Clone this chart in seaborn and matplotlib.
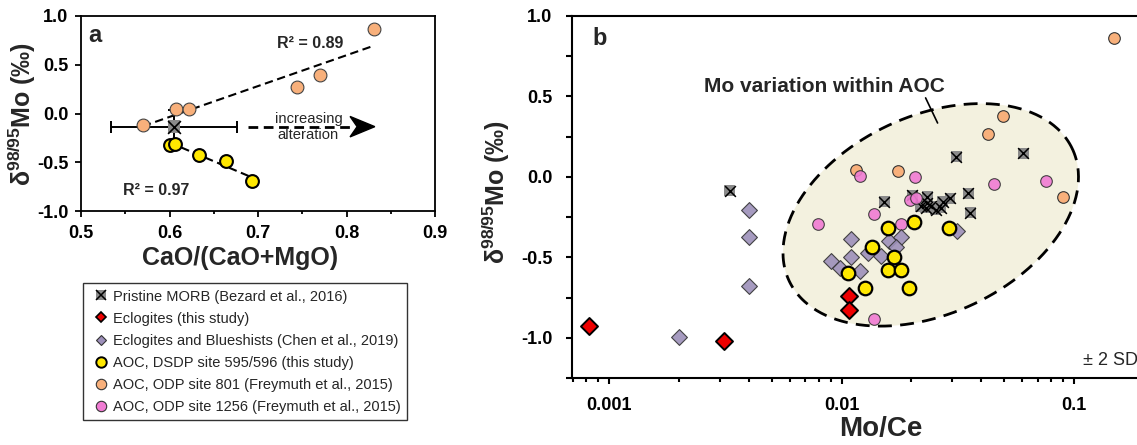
import numpy as np
import pandas as pd
import matplotlib
matplotlib.use("Agg")
import matplotlib.pyplot as plt
import seaborn as sns
from matplotlib.lines import Line2D
from matplotlib.patches import Polygon
from matplotlib.legend_handler import HandlerTuple
from matplotlib.ticker import FixedLocator, MultipleLocator, LogLocator, NullFormatter, FuncFormatter

# ── Data: panel a (CaO/(CaO+MgO) vs d98/95Mo) ──────────────────────────────
a_orange_x = [0.570, 0.607, 0.622, 0.744, 0.770, 0.831]
a_orange_y = [-0.12, 0.05, 0.05, 0.27, 0.39, 0.87]
a_yellow_x = [0.600, 0.606, 0.633, 0.664, 0.693]
a_yellow_y = [-0.32, -0.31, -0.43, -0.49, -0.69]
a_morb_x, a_morb_y = [0.605], [-0.135]
a_morb_xerr, a_morb_yerr = [0.071], [0.17]

# ── Data: panel b (Mo/Ce vs d98/95Mo) ──────────────────────────────────────
morb_x = [0.0033, 0.0312, 0.0605, 0.0153, 0.0202, 0.0234, 0.0272, 0.0293, 0.0351, 0.0358,
          0.0219, 0.0230, 0.0242, 0.0254, 0.0267, 0.0234]
morb_y = [-0.085, 0.126, 0.147, -0.153, -0.112, -0.122, -0.153, -0.132, -0.101, -0.222,
          -0.184, -0.194, -0.184, -0.205, -0.194, -0.163]
ecl_x = [0.00082, 0.00313, 0.0108, 0.0108]
ecl_y = [-0.925, -1.017, -0.743, -0.826]
chen_x = [0.0020, 0.0040, 0.0040, 0.0040, 0.0110, 0.00897, 0.0099, 0.0110, 0.0120,
          0.0130, 0.0148, 0.0160, 0.0180, 0.0171, 0.0315]
chen_y = [-0.996, -0.205, -0.375, -0.680, -0.385, -0.522, -0.567, -0.499, -0.582,
          -0.474, -0.491, -0.396, -0.371, -0.433, -0.339]
dsdp_x = [0.0158, 0.0205, 0.0290, 0.01347, 0.0168, 0.0158, 0.0181, 0.01065, 0.0126, 0.0195]
dsdp_y = [-0.315, -0.281, -0.315, -0.437, -0.499, -0.578, -0.578, -0.598, -0.691, -0.691]
odp801_x = [0.149, 0.0493, 0.0428, 0.01149, 0.01755, 0.090]
odp801_y = [0.861, 0.381, 0.267, 0.043, 0.039, -0.122]
odp1256_x = [0.01196, 0.0208, 0.0454, 0.076, 0.0198, 0.0210, 0.01378, 0.0079, 0.0181, 0.0138]
odp1256_y = [0.008, 0.002, -0.043, -0.023, -0.145, -0.130, -0.232, -0.294, -0.294, -0.882]

legend_labels = [
    "Pristine MORB (Bezard et al., 2016)",
    "Eclogites (this study)",
    "Eclogites and Blueshists (Chen et al., 2019)",
    "AOC, DSDP site 595/596 (this study)",
    "AOC, ODP site 801 (Freymuth et al., 2015)",
    "AOC, ODP site 1256 (Freymuth et al., 2015)",
]

# ── Styling ────────────────────────────────────────────────────────────────
sns.set_theme(style="white")
plt.rcParams["font.family"] = ["Liberation Sans", "DejaVu Sans"]
plt.rcParams["axes.unicode_minus"] = False
plt.rcParams["mathtext.fontset"] = "custom"
plt.rcParams["mathtext.rm"] = "Liberation Sans"
plt.rcParams["mathtext.bf"] = "Liberation Sans:bold"

C = {
    "morb": "#8a8a8a",
    "ecl": "#ee0000",
    "chen": "#9d90ba",
    "dsdp": "#ffe800",
    "odp801": "#f8b07b",
    "odp1256": "#f07bd3",
    "ellipse": "#f3f1df",
}
YLABEL = r"δ$^{\mathbf{98/95}}$Mo (‰)"

W, H = 1137, 445
fig = plt.figure(figsize=(W / 100, H / 100), dpi=100)
ax_a = fig.add_axes([81 / W, 1 - 211 / H, 354 / W, 195 / H])
ax_b = fig.add_axes([572 / W, 1 - 378 / H, 600 / W, 362 / H])


def style_axis(ax, lw):
    for s in ax.spines.values():
        s.set_linewidth(lw)
        s.set_color("black")
    ax.tick_params(which="both", direction="out", colors="black", width=lw,
                   left=True, bottom=True, top=False, right=False)


def bold_ticks(ax):
    for lab in ax.get_xticklabels() + ax.get_yticklabels():
        lab.set_fontweight("bold")


# ── Panel a ────────────────────────────────────────────────────────────────
style_axis(ax_a, 1.3)
dash_kw = dict(color="black", lw=1.5, ls=(0, (4, 2.2)))
sns.regplot(x=a_orange_x, y=a_orange_y, ax=ax_a, scatter=False, ci=None, line_kws=dash_kw)
sns.regplot(x=a_yellow_x, y=a_yellow_y, ax=ax_a, scatter=False, ci=None, line_kws=dash_kw)

ax_a.errorbar(a_morb_x, a_morb_y, xerr=a_morb_xerr, yerr=a_morb_yerr, fmt="none",
              ecolor="black", elinewidth=1.4, capsize=4, capthick=1.4, zorder=3)
sns.scatterplot(x=a_orange_x, y=a_orange_y, ax=ax_a, marker="o", s=85, color=C["odp801"],
                edgecolor="#444444", linewidth=0.8, zorder=4, legend=False)
sns.scatterplot(x=a_yellow_x, y=a_yellow_y, ax=ax_a, marker="o", s=85, color=C["dsdp"],
                edgecolor="black", linewidth=1.5, zorder=5, legend=False)
sns.scatterplot(x=a_morb_x, y=a_morb_y, ax=ax_a, marker="s", s=85, color=C["morb"],
                edgecolor="none", zorder=6, legend=False)
sns.scatterplot(x=a_morb_x, y=a_morb_y, ax=ax_a, marker="x", s=85, color="black",
                linewidth=1.2, zorder=7, legend=False)

# increasing alteration arrow
ax_a.plot([0.689, 0.808], [-0.135, -0.135], color="black", lw=2, ls=(0, (3.5, 2)))
tip, back, notch, half = 0.832, 0.804, 0.812, 0.105
ax_a.add_patch(Polygon([[tip, -0.135], [back, -0.135 + half], [notch, -0.135],
                        [back, -0.135 - half]], closed=True, color="black", zorder=5))
ax_a.text(0.757, -0.14, "increasing\nalteration", ha="center", va="center",
          fontsize=10.6, linespacing=1.15)

ax_a.text(0.508, 0.92, "a", ha="left", va="top", fontsize=17, fontweight="bold")
ax_a.text(0.7215, 0.72, "R² = 0.89", ha="left", va="center", fontsize=11.5, fontweight="bold")
ax_a.text(0.547, -0.79, "R² = 0.97", ha="left", va="center", fontsize=11.5, fontweight="bold")

ax_a.set_xlim(0.5, 0.9)
ax_a.set_ylim(-1.0, 1.0)
ax_a.xaxis.set_major_locator(MultipleLocator(0.1))
ax_a.xaxis.set_minor_locator(MultipleLocator(0.05))
ax_a.yaxis.set_major_locator(MultipleLocator(0.5))
ax_a.xaxis.set_major_formatter(FuncFormatter(lambda v, _: f"{v:.1f}"))
ax_a.yaxis.set_major_formatter(FuncFormatter(lambda v, _: f"{v:.1f}"))
ax_a.tick_params(which="major", length=4, labelsize=13)
ax_a.tick_params(which="minor", length=2.5)
ax_a.tick_params(axis="y", pad=5)
ax_a.tick_params(axis="x", pad=6)
bold_ticks(ax_a)
ax_a.set_xlabel("CaO/(CaO+MgO)", fontsize=18, fontweight="bold")
ax_a.set_ylabel(YLABEL, fontsize=18, fontweight="bold")
ax_a.xaxis.set_label_coords(0.45, -0.18)
ax_a.yaxis.set_label_coords(-0.121, 0.5)

# ── Panel b ────────────────────────────────────────────────────────────────
style_axis(ax_b, 1.5)
ax_b.set_xscale("log")

# AOC variation ellipse, shape measured in screen pixels (232 px/decade, 161 px/unit)
ell_cx, ell_cy = 0.0242, -0.236
ell_a, ell_b, ell_ang = 156, 99, np.deg2rad(25)
t = np.linspace(0, 2 * np.pi, 400)
dx = ell_a * np.cos(t) * np.cos(ell_ang) - ell_b * np.sin(t) * np.sin(ell_ang)
dy = ell_a * np.cos(t) * np.sin(ell_ang) + ell_b * np.sin(t) * np.cos(ell_ang)
ell_x = 10 ** (np.log10(ell_cx) + dx / 232)
ell_y = ell_cy + dy / 161
ax_b.fill(ell_x, ell_y, color=C["ellipse"], zorder=0, lw=0)
ax_b.plot(ell_x, ell_y, color="black", lw=2.0, ls=(0, (5, 3)), zorder=1)

ax_b.text(0.00845, 0.559, "Mo variation within AOC", ha="center", va="center",
          fontsize=15, fontweight="bold")
ax_b.plot([0.0230, 0.0259], [0.491, 0.335], color="black", lw=1.2)

sns.scatterplot(x=morb_x, y=morb_y, ax=ax_b, marker="s", s=60, color=C["morb"],
                edgecolor="none", zorder=2, legend=False)
sns.scatterplot(x=morb_x, y=morb_y, ax=ax_b, marker="x", s=60, color="black",
                linewidth=1.1, zorder=2.1, legend=False)
sns.scatterplot(x=odp801_x, y=odp801_y, ax=ax_b, marker="o", s=70, color=C["odp801"],
                edgecolor="#333333", linewidth=0.8, zorder=3, legend=False)
sns.scatterplot(x=odp1256_x, y=odp1256_y, ax=ax_b, marker="o", s=70, color=C["odp1256"],
                edgecolor="#333333", linewidth=0.8, alpha=0.9, zorder=4, legend=False)
sns.scatterplot(x=chen_x, y=chen_y, ax=ax_b, marker="D", s=65, color=C["chen"],
                edgecolor="#333333", linewidth=0.8, alpha=0.9, zorder=5, legend=False)
sns.scatterplot(x=dsdp_x, y=dsdp_y, ax=ax_b, marker="o", s=95, color=C["dsdp"],
                edgecolor="black", linewidth=1.6, zorder=6, legend=False)
sns.scatterplot(x=ecl_x, y=ecl_y, ax=ax_b, marker="D", s=75, color=C["ecl"],
                edgecolor="black", linewidth=1.4, zorder=7, legend=False)

ax_b.text(0.851, 0.047, "± 2 SD", transform=ax_b.transAxes, ha="left", va="center",
          fontsize=13, clip_on=False)
ax_b.text(0.000845, 0.93, "b", ha="left", va="top", fontsize=17, fontweight="bold")

ax_b.set_xlim(0.000693, 0.264)
ax_b.set_ylim(-1.25, 1.0)
ax_b.xaxis.set_major_locator(FixedLocator([0.001, 0.01, 0.1]))
ax_b.xaxis.set_minor_locator(LogLocator(base=10, subs=np.arange(2, 10)))
ax_b.xaxis.set_minor_formatter(NullFormatter())
ax_b.xaxis.set_major_formatter(FuncFormatter(lambda v, _: f"{v:g}"))
ax_b.yaxis.set_major_locator(MultipleLocator(0.5))
ax_b.yaxis.set_minor_locator(MultipleLocator(0.25))
ax_b.yaxis.set_major_formatter(FuncFormatter(lambda v, _: f"{v:.1f}"))
ax_b.tick_params(which="major", length=4, pad=10, labelsize=13)
ax_b.tick_params(axis="y", which="minor", length=4)
ax_b.tick_params(axis="x", which="minor", length=2.7)
bold_ticks(ax_b)
ax_b.set_xlabel("Mo/Ce", fontsize=20, fontweight="bold")
ax_b.set_ylabel(YLABEL, fontsize=18, fontweight="bold")
ax_b.xaxis.set_label_coords(0.514, -0.105)
ax_b.yaxis.set_label_coords(-0.10, 0.515)

# ── Legend ─────────────────────────────────────────────────────────────────
def mk(marker, face, edge, ms, mew):
    return Line2D([], [], ls="none", marker=marker, markerfacecolor=face,
                  markeredgecolor=edge, markersize=ms, markeredgewidth=mew)

handles = [
    (mk("s", C["morb"], "none", 7.5, 0), mk("x", "black", "black", 7.5, 1.1)),
    mk("D", C["ecl"], "black", 5.5, 1.2),
    mk("D", C["chen"], "#333333", 5.5, 0.8),
    mk("o", C["dsdp"], "black", 7.5, 1.4),
    mk("o", C["odp801"], "#333333", 7.5, 0.8),
    mk("o", C["odp1256"], "#333333", 7.5, 0.8),
]
leg = fig.legend(handles, legend_labels, handler_map={tuple: HandlerTuple(ndivide=1)},
                 loc="upper left", bbox_to_anchor=(83 / W, 1 - 283 / H), borderaxespad=0,
                 frameon=True, fancybox=False, edgecolor="black", fontsize=10.5,
                 handlelength=1.6, handletextpad=0.0, labelspacing=0.55, borderpad=0.45)
leg.get_frame().set_linewidth(1.0)

fig.savefig("out.png", dpi=100)
